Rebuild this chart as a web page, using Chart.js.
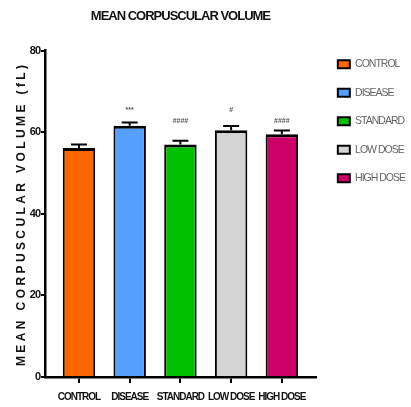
<!DOCTYPE html>
<html>
<head>
<meta charset="utf-8">
<script src="https://cdn.jsdelivr.net/npm/chart.js@4/dist/chart.umd.min.js"></script>
<style>
  html, body { margin: 0; padding: 0; background: #fff; }
  #wrap { width: 411px; height: 407px; }
</style>
</head>
<body>
<div id="wrap"><canvas id="mcv"></canvas></div>
<script>
const groups = ['CONTROL', 'DISEASE', 'STANDARD', 'LOW DOSE', 'HIGH DOSE'];
const means = [56.1, 61.6, 57.0, 60.5, 59.5];
const sem = [0.9, 0.8, 0.9, 1.0, 0.9];
const marks = ['', '***', '####', '#', '####'];
const markY = [null, 65.4, 62.7, 65.4, 62.7];
const colors = ['#ff6600', '#55a0ff', '#00c000', '#d4d4d4', '#cc0066'];
const yTicks = [0, 20, 40, 60, 80];

const sans = "'Liberation Sans', Arial, sans-serif";

// the original uses a condensed face; squeeze letters a little instead
function narrowText(chart) {
  chart.ctx.letterSpacing = '-1px';
}

const extras = {
  id: 'extras',
  beforeLayout: narrowText,
  beforeDraw: narrowText,
  afterLayout(chart) {
    // nudge the legend a bit to the right, as in the original
    chart.legend.left += 4;
    chart.legend.right += 4;
  },
  afterDatasetsDraw(chart) {
    const { ctx, scales: { x, y } } = chart;
    ctx.save();
    ctx.strokeStyle = '#000';
    ctx.lineWidth = 2;
    means.forEach((m, i) => {
      const px = x.getPixelForValue(i);
      const top = y.getPixelForValue(m + sem[i]);
      ctx.beginPath();
      ctx.moveTo(px, y.getPixelForValue(m));
      ctx.lineTo(px, top);
      ctx.moveTo(px - 8, top);
      ctx.lineTo(px + 8, top);
      ctx.stroke();
      if (marks[i]) {
        ctx.letterSpacing = '0px';
        ctx.fillStyle = '#555';
        ctx.font = 'bold 7px ' + sans;
        ctx.textAlign = 'center';
        ctx.textBaseline = 'middle';
        ctx.fillText(marks[i], px, y.getPixelForValue(markY[i]));
      }
    });
    ctx.restore();
  },
  afterDraw(chart) {
    // y axis title, widely spaced like the original
    const { ctx, chartArea } = chart;
    ctx.save();
    ctx.translate(22, (chartArea.top + chartArea.bottom) / 2);
    ctx.rotate(-Math.PI / 2);
    ctx.fillStyle = '#111';
    ctx.font = 'bold 12px ' + sans;
    ctx.letterSpacing = '3.4px';
    ctx.textAlign = 'center';
    ctx.textBaseline = 'middle';
    ctx.fillText('MEAN CORPUSCULAR VOLUME (fL)', 0, 0);
    ctx.restore();
  }
};

new Chart(document.getElementById('mcv'), {
  type: 'bar',
  data: {
    datasets: [{
      data: means.map((v, i) => ({ x: i, y: v })),
      backgroundColor: colors,
      borderColor: '#000',
      borderWidth: { top: 3, left: 2, right: 2, bottom: 0 },
      borderSkipped: false,
      barPercentage: 0.64,
      categoryPercentage: 1
    }]
  },
  options: {
    responsive: true,
    maintainAspectRatio: false,
    animation: false,
    layout: { padding: { left: 0, right: 0, top: 0, bottom: 0 } },
    plugins: {
      title: {
        display: true,
        fullSize: false,
        text: 'MEAN CORPUSCULAR VOLUME',
        color: '#111',
        font: { family: sans, size: 13, weight: 'bold' },
        padding: { top: 9, bottom: 26 }
      },
      legend: {
        position: 'right',
        align: 'start',
        title: {
          display: true,
          text: ' ',
          font: { size: 10 },
          padding: { top: 0, bottom: 29 }
        },
        labels: {
          boxWidth: 12,
          boxHeight: 8,
          padding: 18,
          color: '#000',
          font: { family: sans, size: 10.5 },
          generateLabels: () => groups.map((g, i) => ({
            text: g,
            fillStyle: colors[i],
            strokeStyle: '#000',
            lineWidth: 2,
            hidden: false,
            index: i
          }))
        },
        onClick: null
      },
      tooltip: { enabled: false }
    },
    scales: {
      x: {
        type: 'linear',
        offset: false,
        min: -0.67,
        max: 4.67,
        afterBuildTicks: s => { s.ticks = groups.map((g, i) => ({ value: i })); },
        afterFit: s => { s.height = 30; },
        border: { color: '#000', width: 2.5 },
        grid: { offset: false, drawOnChartArea: false, drawTicks: true, tickLength: 6, color: '#000', lineWidth: 2 },
        ticks: {
          autoSkip: false,
          maxRotation: 0,
          padding: 8,
          color: '#111',
          font: { family: sans, size: 10, weight: 'bold' },
          callback: v => groups[v]
        }
      },
      y: {
        min: 0,
        max: 80,
        afterBuildTicks: s => { s.ticks = yTicks.map(v => ({ value: v })); },
        afterFit: s => { s.width = 45; },
        border: { color: '#000', width: 2.5 },
        grid: { drawOnChartArea: false, drawTicks: true, tickLength: 4, color: '#000', lineWidth: 2 },
        ticks: {
          padding: 1,
          color: '#111',
          font: { family: sans, size: 11, weight: 'bold' }
        }
      }
    }
  },
  plugins: [extras]
});
</script>
</body>
</html>
